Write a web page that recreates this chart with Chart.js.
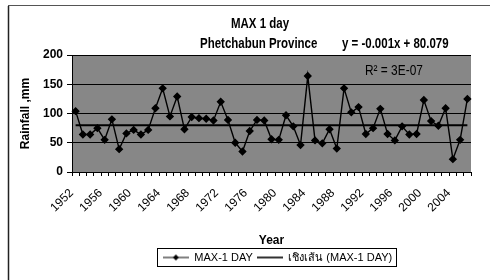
<!DOCTYPE html>
<html><head><meta charset="utf-8">
<script src="https://cdn.jsdelivr.net/npm/chart.js@4.4.1/dist/chart.umd.min.js"></script>
<style>html,body{margin:0;padding:0;background:#fff}#wrap{width:499px;height:280px;position:relative}</style>
</head><body><div id="wrap"><canvas id="c" width="499" height="280"></canvas></div>
<script>
const years = ['1952','1953','1954','1955','1956','1957','1958','1959','1960','1961','1962','1963','1964','1965','1966','1967','1968','1969','1970','1971','1972','1973','1974','1975','1976','1977','1978','1979','1980','1981','1982','1983','1984','1985','1986','1987','1988','1989','1990','1991','1992','1993','1994','1995','1996','1997','1998','1999','2000','2001','2002','2003','2004','2005','2006'];
const maxOneDay = [104,64,64,75,55,90,39,66,72,64,72,109,143,95,129,73,94,92,91,88,120,89,50,35,70,89,88,56,55,97,78,46,164,54,49,73,40,143,102,111,65,75,108,65,54,78,64,65,123,87,79,109,22,55,125];
const trendSlope = -0.001;
const trendIntercept = 80.079;
const yTickValues = [0,50,100,150,200];
const titleText = 'MAX 1 day';
const subtitleText = 'Phetchabun Province';
const equationText = 'y = -0.001x + 80.079';
const r2Text = 'R² = 3E-07';
const yTitleText = 'Rainfall ,mm';
const xTitleText = 'Year';
const seriesName = 'MAX-1 DAY';
const trendName = 'เชิงเส้น (MAX-1 DAY)';

const FAM = "'Liberation Sans',Arial,sans-serif";
const LEGEND_SHIFT = 37;
const trendValues = maxOneDay.map((_, i) => trendSlope * (i + 1) + trendIntercept);

function legendIcon(withMarker) {
  const c = document.createElement('canvas');
  c.width = 26; c.height = 10;
  const g = c.getContext('2d');
  g.strokeStyle = '#000';
  g.lineWidth = withMarker ? 1 : 1.6;
  g.beginPath(); g.moveTo(0, 5); g.lineTo(26, 5); g.stroke();
  if (withMarker) {
    g.fillStyle = '#000';
    g.beginPath(); g.moveTo(13, 2); g.lineTo(16, 5); g.lineTo(13, 8); g.lineTo(10, 5); g.closePath(); g.fill();
  }
  return c;
}
const icons = [legendIcon(true), legendIcon(false)];

function narrowText(ctx, text, x, y, align, squeeze) {
  ctx.save();
  ctx.translate(x, y);
  ctx.scale(squeeze, 1);
  ctx.textAlign = align;
  ctx.fillText(text, 0, 0);
  ctx.restore();
}

const decor = {
  id: 'decor',
  afterUpdate(chart) {
    const lg = chart.legend;
    if (!lg) return;
    lg.left += LEGEND_SHIFT; lg.right += LEGEND_SHIFT;
    (lg.legendHitBoxes || []).forEach(h => { h.left += LEGEND_SHIFT; });
  },
  beforeDraw(chart) {
    const ctx = chart.ctx, a = chart.chartArea;
    ctx.save();
    ctx.fillStyle = '#878787';
    ctx.fillRect(a.left, a.top, a.right - a.left, a.bottom - a.top);
    ctx.strokeStyle = '#222';
    ctx.lineWidth = 1.5;
    ctx.beginPath(); ctx.moveTo(8.5, 6); ctx.lineTo(8.5, 280); ctx.stroke();
    ctx.strokeStyle = '#555';
    ctx.lineWidth = 1;
    ctx.beginPath(); ctx.moveTo(8, 5.5); ctx.lineTo(490, 5.5); ctx.stroke();
    ctx.restore();
  },
  afterDraw(chart) {
    const ctx = chart.ctx;
    ctx.save();
    ctx.fillStyle = '#000';
    ctx.textBaseline = 'alphabetic';
    ctx.font = 'bold 14px ' + FAM;
    narrowText(ctx, titleText, 260, 28, 'center', 0.82);
    narrowText(ctx, subtitleText, 200, 48, 'left', 0.82);
    narrowText(ctx, equationText, 342, 48, 'left', 0.82);
    ctx.font = '14px ' + FAM;
    narrowText(ctx, r2Text, 365, 75, 'left', 0.85);
    const lg = chart.legend;
    if (lg && lg.legendHitBoxes && lg.legendHitBoxes.length) {
      let l = Infinity, r = -Infinity, t = Infinity, b = -Infinity;
      lg.legendHitBoxes.forEach(h => { l = Math.min(l, h.left); r = Math.max(r, h.left + h.width); t = Math.min(t, h.top); b = Math.max(b, h.top + h.height); });
      ctx.strokeStyle = '#000';
      ctx.lineWidth = 1;
      ctx.strokeRect(Math.round(l - 6) + 0.5, Math.round(t - 4) + 0.5, Math.round(r - l + 10), Math.round(b - t + 7));
    }
    ctx.restore();
  }
};

new Chart(document.getElementById('c'), {
  type: 'line',
  data: {
    labels: years,
    datasets: [
      { label: seriesName, data: maxOneDay, borderColor: '#000', borderWidth: 1.4, pointStyle: 'rectRot', pointRadius: 3.2, pointBackgroundColor: '#000', pointBorderColor: '#000', tension: 0 },
      { label: trendName, data: trendValues, borderColor: '#000', borderWidth: 2, pointRadius: 0, tension: 0 }
    ]
  },
  options: {
    responsive: false,
    animation: false,
    devicePixelRatio: 1,
    layout: { padding: { left: 10, right: 28, top: 55, bottom: 7 } },
    plugins: {
      title: { display: false },
      tooltip: { enabled: false },
      legend: {
        display: true,
        position: 'bottom',
        labels: {
          usePointStyle: true,
          pointStyleWidth: 26,
          padding: 4,
          color: '#000',
          font: { family: FAM, size: 11 },
          generateLabels(chart) {
            return chart.data.datasets.map((ds, i) => ({
              text: ds.label, pointStyle: icons[i], fillStyle: '#000', strokeStyle: '#000', lineWidth: 0, hidden: false, datasetIndex: i, fontColor: '#000'
            }));
          }
        }
      }
    },
    scales: {
      x: {
        offset: true,
        afterFit(scale) { scale.height = 76; },
        grid: { display: true, drawOnChartArea: false, drawTicks: true, tickLength: 4, color: '#000', offset: true },
        border: { color: '#000', width: 1 },
        ticks: {
          autoSkip: false, minRotation: 45, maxRotation: 45, padding: 10, labelOffset: -4,
          color: '#000', font: { family: FAM, size: 12 },
          callback: (v, i) => (i % 4 === 0 ? years[i] : '')
        },
        title: { display: true, text: xTitleText, color: '#000', font: { family: FAM, size: 12, weight: 'bold' }, padding: { top: 4, bottom: 0 } }
      },
      y: {
        min: 0, max: 200,
        afterFit(scale) { scale.width = 62; },
        afterBuildTicks(scale) { scale.ticks = yTickValues.map(v => ({ value: v })); },
        grid: { color: '#000', tickLength: 5, lineWidth: 1 },
        border: { color: '#000', width: 1 },
        ticks: { color: '#000', padding: 4, font: { family: FAM, size: 12, weight: 'bold' } },
        title: { display: true, text: yTitleText, color: '#000', font: { family: FAM, size: 12, weight: 'bold' }, padding: { top: 8, bottom: 0 } }
      }
    }
  },
  plugins: [decor]
});
</script></body></html>
